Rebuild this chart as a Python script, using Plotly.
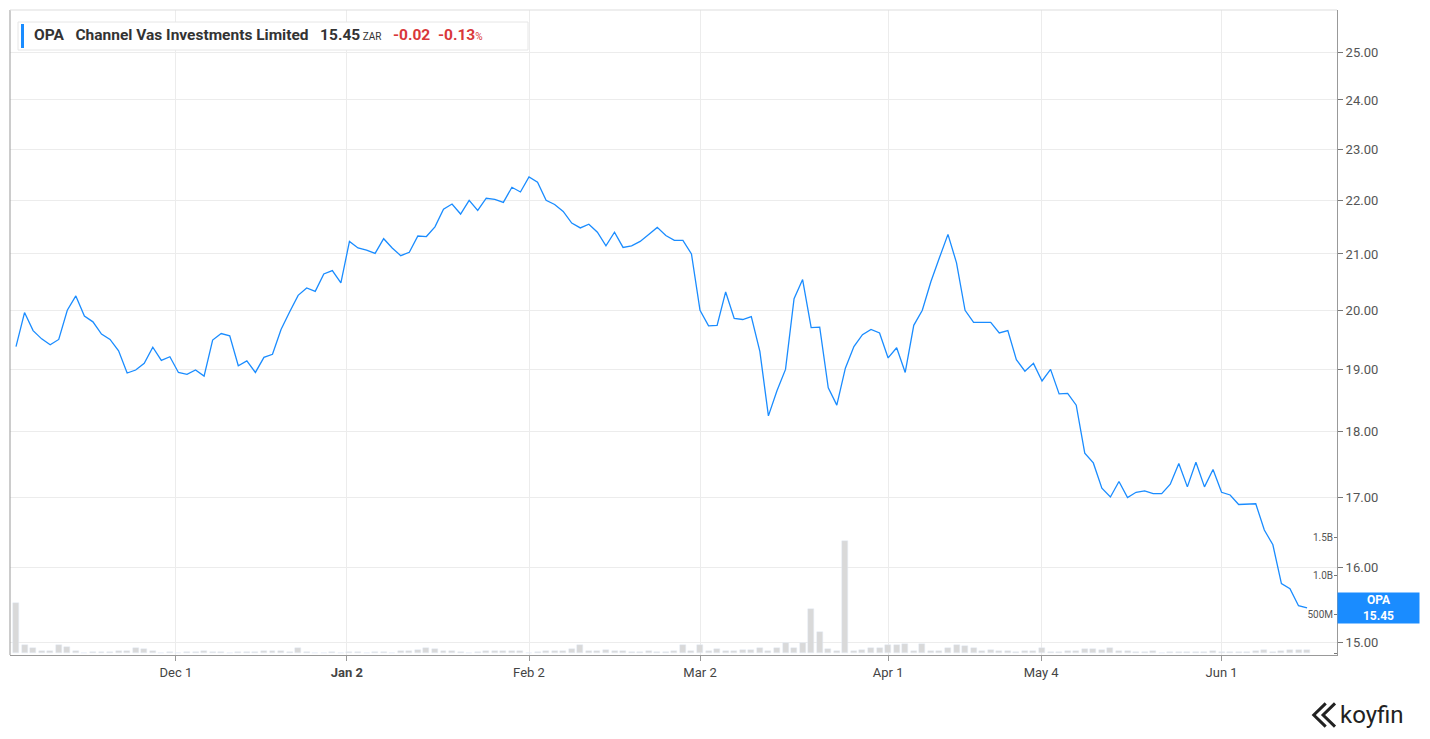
import plotly.graph_objects as go

prices = [19.38,19.96,19.65,19.51,19.41,19.50,20.0,20.25,19.90,19.80,19.59,19.50,19.31,18.94,18.99,19.10,19.37,19.15,19.21,18.95,
          18.92,18.99,18.89,19.49,19.60,19.56,19.06,19.14,18.95,19.20,19.25,19.67,19.97,20.26,20.39,20.33,20.64,20.70,20.48,21.23,
          21.11,21.07,21.01,21.28,21.11,20.97,21.03,21.33,21.32,21.50,21.83,21.93,21.74,22.0,21.81,22.04,22.02,21.96,22.25,22.16,
          22.45,22.35,22.0,21.92,21.79,21.57,21.48,21.55,21.40,21.15,21.40,21.12,21.15,21.23,21.36,21.49,21.34,21.25,21.25,21.0,
          20.0,19.73,19.74,20.32,19.86,19.84,19.89,19.30,18.25,18.65,19.0,20.2,20.54,19.70,19.71,18.70,18.42,19.02,19.38,19.58,
          19.67,19.61,19.19,19.36,18.95,19.74,20.0,20.5,20.93,21.36,20.84,20.0,19.79,19.79,19.79,19.61,19.65,19.16,18.97,19.1,
          18.81,19.0,18.6,18.61,18.42,17.67,17.52,17.14,17.01,17.24,17.0,17.08,17.1,17.06,17.06,17.2,17.51,17.16,17.53,17.16,
          17.42,17.08,17.04,16.9,16.9,16.91,16.53,16.32,15.78,15.71,15.48,15.45]

volumes_b = [0.65,0.10,0.07,0.02,0.03,0.10,0.08,0.03,0.0,0.01,0.01,0.01,0.03,0.02,0.06,0.05,0.03,0.0,0.01,0.0,
             0.01,0.01,0.02,0.01,0.01,0.0,0.01,0.01,0.01,0.02,0.02,0.03,0.01,0.06,0.01,0.0,0.0,0.01,0.0,0.01,
             0.01,0.0,0.01,0.01,0.0,0.03,0.03,0.04,0.06,0.05,0.02,0.02,0.01,0.0,0.01,0.02,0.03,0.03,0.02,0.02,
             0.0,0.01,0.02,0.02,0.02,0.05,0.10,0.02,0.02,0.04,0.02,0.02,0.01,0.01,0.02,0.01,0.01,0.02,0.10,0.02,
             0.10,0.03,0.05,0.03,0.02,0.04,0.04,0.07,0.03,0.07,0.13,0.07,0.13,0.57,0.27,0.05,0.03,1.45,0.03,
             0.04,0.07,0.06,0.10,0.10,0.12,0.02,0.12,0.02,0.02,0.06,0.10,0.09,0.06,0.03,0.04,0.03,0.03,0.01,0.02,
             0.03,0.07,0.01,0.01,0.02,0.02,0.05,0.05,0.04,0.06,0.02,0.02,0.01,0.01,0.02,0.0,0.01,0.01,0.01,0.01,
             0.01,0.02,0.01,0.01,0.01,0.01,0.03,0.04,0.01,0.03,0.04,0.04,0.04]

date_tick_pos = [18.7, 38.7, 60, 80, 102, 119.9, 141]
date_tick_text = ["Dec 1", "<b>Jan 2</b>", "Feb 2", "Mar 2", "Apr 1", "May 4", "Jun 1"]
price_ticks = [15, 16, 17, 18, 19, 20, 21, 22, 23, 24, 25]
vol_ticks = [0, 0.5e9, 1.0e9, 1.5e9]
vol_tick_text = ["0.0", "500M", "1.0B", "1.5B"]

idx = list(range(len(prices)))
vols = [v * 1e9 for v in volumes_b[:len(prices)]]

fig = go.Figure()
fig.add_trace(go.Bar(x=idx, y=vols, yaxis="y2", marker_color="#d9d9d9", width=0.7, hoverinfo="skip"))
fig.add_trace(go.Scatter(x=idx, y=prices, mode="lines", line=dict(color="#1a8cff", width=1.3)))

fig.update_layout(
    width=1430, height=739, showlegend=False, plot_bgcolor="white", paper_bgcolor="white",
    margin=dict(l=2, r=101, t=2, b=92), bargap=0,
    font=dict(family="Roboto, Liberation Sans, sans-serif", color="#555"),
    xaxis=dict(range=[-0.7, 154.5], tickvals=date_tick_pos, ticktext=date_tick_text,
               showgrid=True, gridcolor="#ececec", zeroline=False, showline=True, linecolor="#999",
               mirror=False, ticks="outside", ticklen=5, tickcolor="#999", tickfont=dict(size=13, color="#444")),
    yaxis=dict(type="log", side="right", range=[1.1712, 1.4141], tickvals=price_ticks,
               ticktext=[f"{p:.2f}" for p in price_ticks], showgrid=True, gridcolor="#ececec",
               showline=True, linecolor="#999", ticks="outside", ticklen=5, tickcolor="#777",
               tickfont=dict(size=13, color="#555"), zeroline=False),
    yaxis2=dict(overlaying="y", side="right", range=[-0.026e9, 8.35e9], tickvals=vol_ticks,
                ticktext=vol_tick_text, ticklabelposition="inside", showgrid=False, zeroline=False,
                ticks="inside", ticklen=3, tickcolor="#777", tickfont=dict(size=10, color="#555")),
)
fig.add_shape(type="line", xref="paper", yref="paper", x0=0, x1=0, y0=0, y1=1, line=dict(color="#999", width=1))
fig.add_shape(type="line", xref="paper", yref="paper", x0=0, x1=1, y0=1, y1=1, line=dict(color="#ddd", width=1))

fig.add_shape(type="rect", xref="paper", yref="paper", x0=8/1327, x1=518/1327, y0=1-40/645, y1=1-12/645,
              line=dict(color="#e6e6e6", width=1), fillcolor="white", layer="above")
fig.add_shape(type="rect", xref="paper", yref="paper", x0=11/1327, x1=14/1327, y0=1-38/645, y1=1-14/645,
              line=dict(width=0), fillcolor="#1a8cff", layer="above")
fig.add_annotation(xref="paper", yref="paper", x=22/1327, y=1-25/645, xanchor="left", yanchor="middle",
                   showarrow=False, font=dict(size=15.5, color="#333", family="Roboto, sans-serif"),
                   text="<b>OPA</b>   <b>Channel Vas Investments Limited</b>   <b>15.45</b><span style='font-size:10px'> ZAR</span>   "
                        "<span style='color:#d9383a'><b>-0.02</b>  <b>-0.13</b><span style='font-size:10px'>%</span></span>")

fig.add_annotation(xref="paper", yref="y", x=1, y=1.1889, xanchor="left", yanchor="middle",
                   showarrow=False, text="<b>OPA</b><br><b>15.45</b>", bgcolor="#1a8cff",
                   font=dict(color="white", size=12), width=79, height=28, align="center", borderpad=1)

fig.add_annotation(xref="paper", yref="paper", x=1.001, y=-0.093, xanchor="left", yanchor="middle",
                   showarrow=False, text="koyfin", font=dict(size=24, color="#222", family="Roboto, sans-serif"))
fig.add_shape(type="path", xref="paper", yref="paper",
              path="M 0.9915,-0.075 L 0.9825,-0.093 L 0.9915,-0.111 M 0.9985,-0.075 L 0.9895,-0.093 L 0.9985,-0.111",
              line=dict(color="#222", width=3))

fig.write_html("out.html")
